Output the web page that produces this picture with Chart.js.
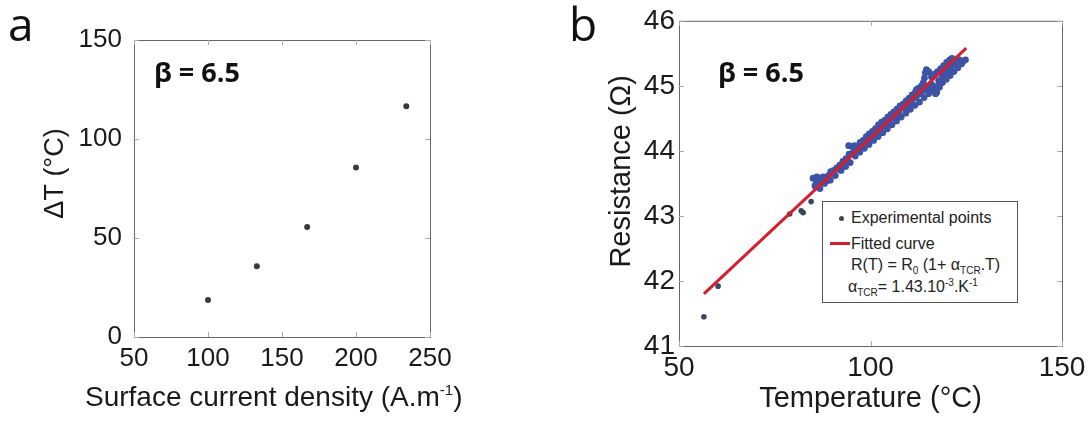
<!DOCTYPE html>
<html>
<head>
<meta charset="utf-8">
<script src="https://cdn.jsdelivr.net/npm/chart.js@4.4.1/dist/chart.umd.min.js"></script>
<style>
  html, body { margin: 0; padding: 0; background: #fff; }
  #page { position: relative; width: 1092px; height: 423px; overflow: hidden; font-family: 'Liberation Sans', Arial, sans-serif; color: #1a1a1a; }
  .wrap { position: absolute; top: 0; height: 423px; }
  .panel-tag { position: absolute; font-family: 'Open Sans', sans-serif; font-size: 46px; line-height: 46px; color: #111; }
  .beta { position: absolute; font-family: 'Open Sans', sans-serif; font-weight: 700; font-size: 27px; line-height: 30px; color: #111; }
  .axis-title { position: absolute; font-size: 28px; line-height: 34px; white-space: nowrap; color: #1a1a1a; }
  .axis-title sup { font-size: 15px; line-height: 0; vertical-align: 11px; }
  #legendBox { position: absolute; left: 822px; top: 201px; width: 194px; height: 100px; border: 1px solid #555; background: #fff; }
  .lg { position: absolute; font-size: 16px; line-height: 20px; white-space: nowrap; color: #222; }
  .lg sub, .lg sup { font-size: 10px; line-height: 0; }
  #lgDot { position: absolute; width: 5px; height: 5px; border-radius: 50%; background: #3a4660; }
  #lgLine { position: absolute; height: 3px; background: #d81e2c; }
</style>
</head>
<body>
<div id="page">
  <div class="wrap" style="left:0;width:540px"><canvas id="chartA"></canvas></div>
  <div class="wrap" style="left:540px;width:552px"><canvas id="chartB"></canvas></div>

  <div class="panel-tag" style="left:8px;top:0px">a</div>
  <div class="panel-tag" style="left:569px;top:0px">b</div>
  <div class="beta" style="left:154px;top:57px">β = 6.5</div>
  <div class="beta" style="left:718px;top:57px">β = 6.5</div>

  <!-- x title of panel a is wider than its plot, so it sits outside the canvas -->
  <div class="axis-title" style="left:85px;top:380px">Surface current density (A.m<sup>-1</sup>)</div>

  <div id="legendBox"></div>
  <div id="lgDot" style="left:839px;top:216px"></div>
  <div class="lg" style="left:851px;top:208px">Experimental points</div>
  <div id="lgLine" style="left:830px;top:242px;width:20px"></div>
  <div class="lg" style="left:851px;top:234px">Fitted curve</div>
  <div class="lg" style="left:851px;top:255px">R(T) = R<sub>0</sub> (1+ α<sub>TCR</sub>.T)</div>
  <div class="lg" style="left:848px;top:277px">α<sub>TCR</sub>= 1.43.10<sup>-3</sup>.K<sup>-1</sup></div>
</div>

<script>
// panel a: temperature rise vs surface current density
const currentDensity = [100, 133, 167, 200, 234];
const deltaT = [18.7, 35.7, 55.6, 85.6, 116.5];

// panel b: resistance vs temperature, experimental points
const tempC = [
  56.5, 60.2, 78.9, 81.9, 82.4, 84.5,
  85.0, 85.5, 86.0, 86.3, 87.2, 88.1, 89.0, 89.6, 90.4, 91.2, 92.0, 92.8, 93.6, 94.3,
  94.4, 95.1, 95.8, 96.5, 97.3, 98.1, 98.9, 99.7, 100.5, 101.3, 102.1, 102.9, 103.7,
  104.5, 105.3, 106.1, 106.9, 107.7, 108.5, 109.3, 110.1, 110.9, 111.7, 112.5, 113.3,
  114.1, 114.6, 115.2, 115.9, 116.7, 117.5, 118.3, 119.1, 119.9, 120.7, 121.3,
  86.8, 88.0, 89.5, 90.8, 92.3, 93.5, 94.7, 96.0, 97.2, 98.4, 99.6, 100.8, 102.0,
  103.2, 104.4, 105.6, 106.8, 108.0, 109.2, 110.4, 111.6, 112.8, 114.0, 115.2, 116.2,
  117.3, 118.0, 118.8, 119.8, 120.8, 121.8, 122.8, 123.8, 124.8,
  98.0, 101.0, 104.0, 107.0, 110.0, 111.0, 113.0, 114.5, 116.0, 117.8, 119.0, 120.5, 122.0,
  85.8, 87.6, 88.6, 90.0, 91.6, 93.0, 94.0, 95.5, 96.8, 97.8, 99.2, 100.2, 101.6,
  102.6, 103.5, 104.8, 105.9, 106.5, 107.4, 108.8, 109.6, 110.7, 111.9, 112.2, 113.6,
  114.8, 115.6, 116.4, 117.0, 117.6, 118.6, 119.4, 120.2, 121.0, 121.6, 122.4, 123.2,
  124.2, 113.8, 114.3, 112.0
];
const resOhm = [
  41.45, 41.92, 43.03, 43.08, 43.05, 43.22,
  43.58, 43.46, 43.60, 43.54, 43.55, 43.58, 43.62, 43.68, 43.70, 43.74, 43.78, 43.84, 43.88, 44.08,
  43.95, 44.07, 44.08, 44.06, 44.13, 44.16, 44.22, 44.26, 44.30, 44.34, 44.40, 44.44, 44.47,
  44.52, 44.56, 44.60, 44.64, 44.69, 44.72, 44.77, 44.81, 44.86, 44.90, 44.96, 45.00,
  45.12, 45.25, 45.22, 45.14, 45.18, 45.22, 45.26, 45.31, 45.36, 45.40, 45.42,
  43.42, 43.50, 43.55, 43.62, 43.70, 43.76, 43.82, 43.92, 43.98, 44.04, 44.10, 44.16, 44.22,
  44.28, 44.34, 44.40, 44.46, 44.52, 44.58, 44.64, 44.70, 44.75, 44.82, 44.88, 44.92,
  44.90, 44.98, 45.05, 45.10, 45.16, 45.22, 45.28, 45.34, 45.40,
  44.12, 44.25, 44.41, 44.57, 44.73, 44.80, 44.88, 44.95, 45.02, 45.08, 45.18, 45.25, 45.33,
  43.50, 43.60, 43.54, 43.66, 43.72, 43.80, 43.86, 43.98, 44.02, 44.07, 44.16, 44.22, 44.28,
  44.36, 44.38, 44.44, 44.50, 44.54, 44.60, 44.66, 44.70, 44.76, 44.82, 44.86, 44.92,
  44.98, 44.95, 44.98, 44.88, 45.00, 45.12, 45.20, 45.28, 45.30, 45.36, 45.38, 45.40,
  45.38, 45.05, 45.20, 44.94
];

// fitted line R(T) = R0 (1 + a.T), endpoints
const fitT = [56.5, 125];
const fitR = [41.80, 45.58];

const FONT = "'Liberation Sans', Arial, sans-serif";

// box around the plot area with small inner ticks, matlab style
const framePlugin = {
  id: 'frame',
  afterDraw(chart) {
    const { ctx, chartArea: a, scales } = chart;
    ctx.save();
    ctx.strokeStyle = '#666';
    ctx.lineWidth = 1;
    ctx.strokeRect(a.left + 0.5, a.top + 0.5, a.right - a.left, a.bottom - a.top);
    ctx.strokeStyle = '#aaa';
    ctx.beginPath();
    scales.x.ticks.forEach(t => {
      const px = Math.round(scales.x.getPixelForValue(t.value)) + 0.5;
      ctx.moveTo(px, a.bottom); ctx.lineTo(px, a.bottom - 5);
      ctx.moveTo(px, a.top); ctx.lineTo(px, a.top + 5);
    });
    scales.y.ticks.forEach(t => {
      const py = Math.round(scales.y.getPixelForValue(t.value)) + 0.5;
      ctx.moveTo(a.left, py); ctx.lineTo(a.left + 5, py);
      ctx.moveTo(a.right, py); ctx.lineTo(a.right - 5, py);
    });
    ctx.stroke();
    ctx.restore();
  }
};

function axisOpts(min, max, step, title, tickSize, titleSize, titlePad, labelPad, fitSize, isX) {
  return {
    type: 'linear',
    min: min,
    max: max,
    grid: { display: false, drawTicks: false },
    border: { display: false },
    ticks: {
      stepSize: step,
      padding: labelPad,
      color: '#1a1a1a',
      font: { family: FONT, size: tickSize },
      maxRotation: 0
    },
    title: {
      display: title !== '',
      text: title,
      color: '#1a1a1a',
      font: { family: FONT, size: titleSize },
      padding: titlePad
    },
    afterFit(scale) {
      if (isX) scale.height = fitSize; else scale.width = fitSize;
    }
  };
}

function initChartA() {
  const ctx = document.getElementById('chartA').getContext('2d');
  const pts = currentDensity.map((x, i) => ({ x: x, y: deltaT[i] }));
  new Chart(ctx, {
    type: 'scatter',
    data: {
      datasets: [{
        label: 'ΔT',
        data: pts,
        backgroundColor: '#3a3a3a',
        borderWidth: 0,
        pointRadius: 3
      }]
    },
    options: {
      responsive: true,
      maintainAspectRatio: false,
      animation: false,
      layout: { padding: { left: 0, top: 40, right: 110, bottom: 0 } },
      plugins: { legend: { display: false }, tooltip: { enabled: false } },
      scales: {
        x: axisOpts(50, 250, 50, '', 26, 28, { top: 0, bottom: 9 }, 6, 86, true),
        y: axisOpts(0, 150, 50, '\u00a0\u00a0\u00a0\u00a0ΔT (°C)', 26, 27, { top: 39, bottom: 0 }, 12, 134, false)
      }
    },
    plugins: [framePlugin]
  });
}

function initChartB() {
  const ctx = document.getElementById('chartB').getContext('2d');
  const pts = tempC.map((x, i) => ({ x: x, y: resOhm[i] }));
  const fit = fitT.map((x, i) => ({ x: x, y: fitR[i] }));
  new Chart(ctx, {
    type: 'scatter',
    data: {
      datasets: [
        {
          label: 'Fitted curve',
          data: fit,
          showLine: true,
          borderColor: '#d81e2c',
          borderWidth: 3,
          pointRadius: 0,
          order: 0
        },
        {
          label: 'Experimental points',
          data: pts,
          backgroundColor: pts.map((p, i) => i < 6 ? '#3a4660' : '#3e52a6'),
          borderWidth: 0,
          pointRadius: pts.map((p, i) => i < 6 ? 2.8 : 3.4),
          order: 1
        }
      ]
    },
    options: {
      responsive: true,
      maintainAspectRatio: false,
      animation: false,
      layout: { padding: { left: 0, top: 19, right: 30, bottom: 0 } },
      plugins: { legend: { display: false }, tooltip: { enabled: false } },
      scales: {
        x: axisOpts(50, 150, 50, 'Temperature (°C)', 28, 29, { top: 0, bottom: 7 }, 5, 77, true),
        y: axisOpts(41, 46, 1, '\u00a0\u00a0\u00a0Resistance (Ω)', 28, 29, { top: 65, bottom: 0 }, 4, 139, false)
      }
    },
    plugins: [framePlugin]
  });
}

initChartA();
initChartB();
</script>
</body>
</html>
